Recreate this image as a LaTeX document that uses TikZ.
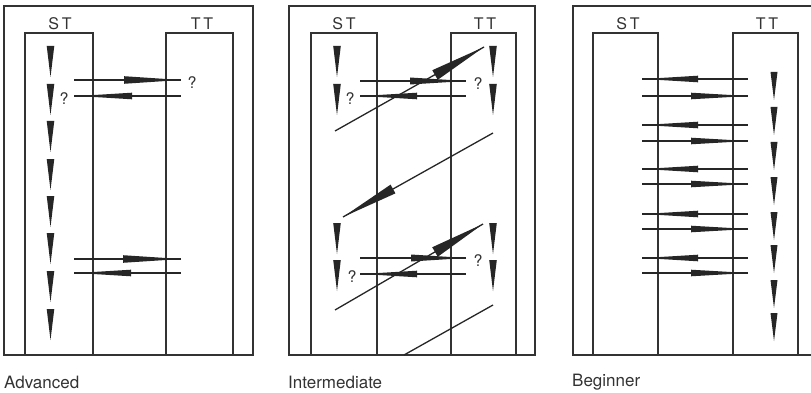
\documentclass[tikz,border=0pt]{standalone}
\usepackage{fontspec}
\setmainfont{TeX Gyre Heros}
\usetikzlibrary{calc}

% tapered wedge: broad end at #1, point at #2, half-width #3
\newcommand\taper[3]{%
  \fill[ink] ($#1!#3!90:#2$) -- ($#1!#3!-90:#2$) -- #2 -- cycle;}
% downward wedge of a reading column: x, top y, length, half-width
\newcommand\colwedge[4]{\taper{(#1,#2)}{(#1,#2+#3)}{#4}}

\begin{document}
\begin{tikzpicture}[x=1pt,y=-1pt,
  ink/.style={fill=black!85},
  frame/.style={draw=black!80,line width=1.1pt},
  move/.style={draw=black!85,line width=1.3pt},
  head/.style={font=\fontsize{16}{16}\selectfont,text=black!80},
  query/.style={font=\fontsize{16}{16}\selectfont,text=black!80},
  caption/.style={font=\fontsize{17}{17}\selectfont,text=black!80,anchor=west,inner sep=0pt}]
\useasboundingbox (0,0) rectangle (811,393);

% captions under the three panels
\node[caption] (a-cap) at (4,382) {Advanced};
\node[caption] (i-cap) at (288,382) {Intermediate};
\node[caption] (b-cap) at (572,382) {Beginner};

% ---------------- Advanced ----------------
\draw[frame] (4,6) rectangle (253,355);
\draw[frame] (25,355) -- (25,33) -- (93,33) -- (93,355);
\draw[frame] (166,355) -- (166,33) -- (233,33) -- (233,355);
\node[head] (a-st) at (60,24) {S\,T};
\node[head] (a-tt) at (202,24) {T\,T};
\foreach \t in {46,84,121,159,196,233,271,309} {
  \colwedge{50.5}{\t}{31}{3.8pt}
}
\coordinate (a1l) at (74,80);  \coordinate (a1r) at (181,80);
\coordinate (a2l) at (74,96);  \coordinate (a2r) at (181,96);
\draw[move] (a1l) -- (a1r);  \taper{(124,80)}{(181,80)}{3.8pt}
\draw[move] (a2l) -- (a2r);  \taper{(132,96)}{(78,96)}{3.3pt}
\node[query] (a-q1) at (192,83) {?};
\node[query] (a-q2) at (64,99) {?};
\coordinate (a3l) at (74,259); \coordinate (a3r) at (181,259);
\coordinate (a4l) at (74,273); \coordinate (a4r) at (181,273);
\draw[move] (a3l) -- (a3r);  \taper{(123,259)}{(181,259)}{3.8pt}
\draw[move] (a4l) -- (a4r);  \taper{(131,273)}{(77,273)}{3.3pt}

% ---------------- Intermediate ----------------
\draw[frame] (289,6) rectangle (535,355);
\draw[frame] (311,355) -- (311,33) -- (377,33) -- (377,355);
\draw[frame] (451,355) -- (451,33) -- (516,33) -- (516,355);
\node[head] (i-st) at (344,24) {S\,T};
\node[head] (i-tt) at (485,24) {T\,T};
\foreach \t in {46,84,223,260} {
  \colwedge{337}{\t}{31}{3.8pt}
  \colwedge{493}{\t}{31}{3.8pt}
}
% upper exchange
\coordinate (i1l) at (360,81);  \coordinate (i1r) at (466,81);
\coordinate (i2l) at (360,96);  \coordinate (i2r) at (466,96);
\draw[move] (i1l) -- (i1r);  \taper{(410,81)}{(466,81)}{3.5pt}
\draw[move] (i2l) -- (i2r);  \taper{(417,96)}{(362,96)}{3.3pt}
\node[query] (i-q1) at (478,84) {?};
\node[query] (i-q2) at (350,99) {?};
\coordinate (d1s) at (335,131); \coordinate (d1e) at (484,47);
\draw[move] (d1s) -- (d1e);  \taper{(435,75)}{(484,47)}{5.5pt}
\coordinate (d2s) at (493,133); \coordinate (d2e) at (343,217);
\draw[move] (d2s) -- (d2e);  \taper{(393,189)}{(343,217)}{5pt}
% lower exchange
\coordinate (i3l) at (360,258); \coordinate (i3r) at (466,258);
\coordinate (i4l) at (360,274); \coordinate (i4r) at (466,274);
\draw[move] (i3l) -- (i3r);  \taper{(411,258)}{(466,258)}{3.5pt}
\draw[move] (i4l) -- (i4r);  \taper{(417,274)}{(362,274)}{3.3pt}
\node[query] (i-q3) at (478,261) {?};
\node[query] (i-q4) at (352,277) {?};
\coordinate (d3s) at (335,310); \coordinate (d3e) at (483,224);
\draw[move] (d3s) -- (d3e);  \taper{(435,252)}{(483,224)}{5.5pt}
\coordinate (d4s) at (493,305); \coordinate (d4e) at (404,355);
\draw[move] (d4s) -- (d4e);

% ---------------- Beginner ----------------
\draw[frame] (820,6) -- (573,6) -- (573,355) -- (820,355);
\draw[frame] (593,355) -- (593,33) -- (658,33) -- (658,355);
\draw[frame] (733,355) -- (733,33) -- (798,33) -- (798,355);
\node[head] (b-st) at (628,24) {S\,T};
\node[head] (b-tt) at (767,24) {T\,T};
\foreach \t in {72,107,142,177,212,245,280,313} {
  \colwedge{774}{\t}{28}{3.5pt}
}
\foreach \u/\v [count=\k] in {79/96,125/141,169/184,214/229,258/273} {
  \coordinate (b\k ul) at (642,\u); \coordinate (b\k ur) at (748,\u);
  \coordinate (b\k vl) at (642,\v); \coordinate (b\k vr) at (748,\v);
  \draw[move] (b\k ul) -- (b\k ur);  \taper{(698,\u)}{(644,\u)}{3.3pt}
  \draw[move] (b\k vl) -- (b\k vr);  \taper{(691,\v)}{(748,\v)}{3.3pt}
}
\end{tikzpicture}
\end{document}
